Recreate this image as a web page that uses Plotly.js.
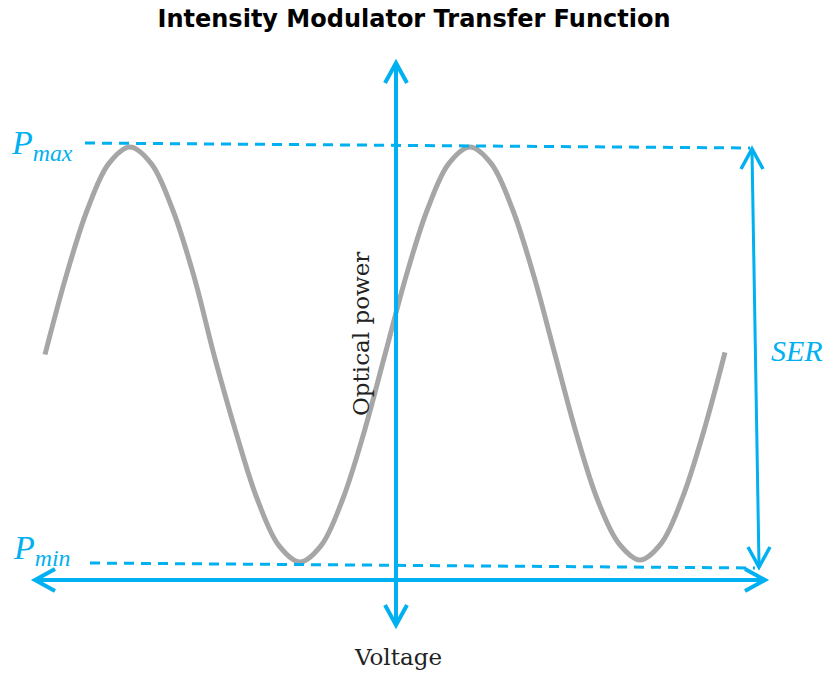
<!DOCTYPE html>
<html><head><meta charset="utf-8">
<script src="https://cdn.plot.ly/plotly-3.0.1.min.js"></script>
<style>html,body{margin:0;padding:0;background:#fff}#chart{width:827px;height:676px}</style>
</head><body><div id="chart"></div>
<script>
// Data (voltage in quarter-period units, power normalised Pmin=0..Pmax=1)
const voltage = [0,0.25,0.5,0.75,1,1.25,1.5,1.75,2,2.25,2.5,2.75,3,3.25,3.5,3.75,4,4.25,4.5,4.75,5,5.25,5.5,5.75,6,6.25,6.5,6.75,7,7.25,7.5,7.75,8];
const opticalPower = [0.50,0.69,0.85,0.96,1.00,0.96,0.85,0.69,0.49,0.31,0.15,0.04,0.00,0.04,0.15,0.31,0.50,0.69,0.85,0.96,1.00,0.96,0.85,0.69,0.50,0.31,0.15,0.045,0.005,0.045,0.155,0.315,0.505];
const titleText = 'Intensity Modulator Transfer Function';
const xLabel = 'Voltage';
const yLabel = 'Optical power';
const levelLabels = ['P<sub>max</sub>', 'P<sub>min</sub>'];
const rangeLabel = 'SER';

const W = 827, H = 676;
const BLUE = '#00B0F0', GRAY = '#A6A6A6';
// reference pixel frame -> data units
const X0PX = 45, XUNIT = 85, Y0PX = 562, YUNIT = 415;
const dx = px => (px - X0PX) / XUNIT;
const dy = py => (Y0PX - py) / YUNIT;

function seg(x0, y0, x1, y1, w, dash) {
  return {type:'line', xref:'x', yref:'y', layer:'above',
    x0:dx(x0), y0:dy(y0), x1:dx(x1), y1:dy(y1),
    line:{color:BLUE, width:w, dash:dash || 'solid'}};
}
function chevron(px, py, dir, w) {
  const b = 20, s = 11;
  let path;
  if (dir === 'up') path = `M${-s},${-b} L0,0 L${s},${-b}`;
  else if (dir === 'down') path = `M${-s},${b} L0,0 L${s},${b}`;
  else if (dir === 'left') path = `M${b},${s} L0,0 L${b},${-s}`;
  else path = `M${-b},${s} L0,0 L${-b},${-s}`;
  return {type:'path', xref:'x', yref:'y', layer:'above', xsizemode:'pixel', ysizemode:'pixel',
    xanchor:dx(px), yanchor:dy(py), path:path, fillcolor:'rgba(0,0,0,0)',
    line:{color:BLUE, width:w}};
}

const shapes = [
  seg(85, 143, 750, 148, 3, '10px,7px'),
  seg(90, 563, 755, 568, 3, '10px,7px'),
  seg(396, 65, 396, 623, 4),
  chevron(396, 63, 'up', 4), chevron(396, 625, 'down', 4),
  seg(37, 580, 763, 580, 4),
  chevron(35, 580, 'left', 4), chevron(765, 580, 'right', 4),
  seg(752, 151, 759, 565, 3),
  chevron(752, 149, 'up', 3.5), chevron(759, 567, 'down', 3.5)
];

const serif = 'DejaVu Serif, Liberation Serif, serif';
const mathSerif = 'Liberation Serif, DejaVu Serif, serif';
const ann = (text, px, py, opts) => Object.assign({
  text:text, xref:'paper', yref:'paper', x:px / W, y:1 - py / H, showarrow:false
}, opts);

const annotations = [
  ann(xLabel, 398, 657, {font:{family:serif, size:23, color:'#222'}, xanchor:'center', yanchor:'middle'}),
  ann(yLabel, 361, 334, {font:{family:serif, size:23, color:'#222'}, textangle:-90, xanchor:'center', yanchor:'middle'}),
  ann('<i>' + levelLabels[0] + '</i>', 9, 145, {font:{family:mathSerif, size:34, color:BLUE}, xanchor:'left', yanchor:'middle'}),
  ann('<i>' + levelLabels[1] + '</i>', 11, 550, {font:{family:mathSerif, size:34, color:BLUE}, xanchor:'left', yanchor:'middle'}),
  ann('<i>' + rangeLabel + '</i>', 797, 350, {font:{family:mathSerif, size:30, color:BLUE}, xanchor:'center', yanchor:'middle'})
];

const data = [{
  x: voltage, y: opticalPower, type:'scatter', mode:'lines',
  line:{color:GRAY, width:5, shape:'spline', smoothing:1}, hoverinfo:'skip'
}];

const layout = {
  width:W, height:H, autosize:false,
  margin:{l:0, r:0, t:0, b:0, pad:0},
  paper_bgcolor:'#fff', plot_bgcolor:'#fff', showlegend:false,
  title:{text:'<b>' + titleText + '</b>', x:414 / W, xanchor:'center', y:1 - 19 / H, yanchor:'middle',
    font:{family:'DejaVu Sans, sans-serif', size:24, color:'#000'}},
  xaxis:{range:[dx(0), dx(W)], visible:false, fixedrange:true},
  yaxis:{range:[dy(H), dy(0)], visible:false, fixedrange:true},
  shapes:shapes, annotations:annotations
};

Plotly.newPlot('chart', data, layout, {displayModeBar:false, staticPlot:true});
</script>
</body></html>
